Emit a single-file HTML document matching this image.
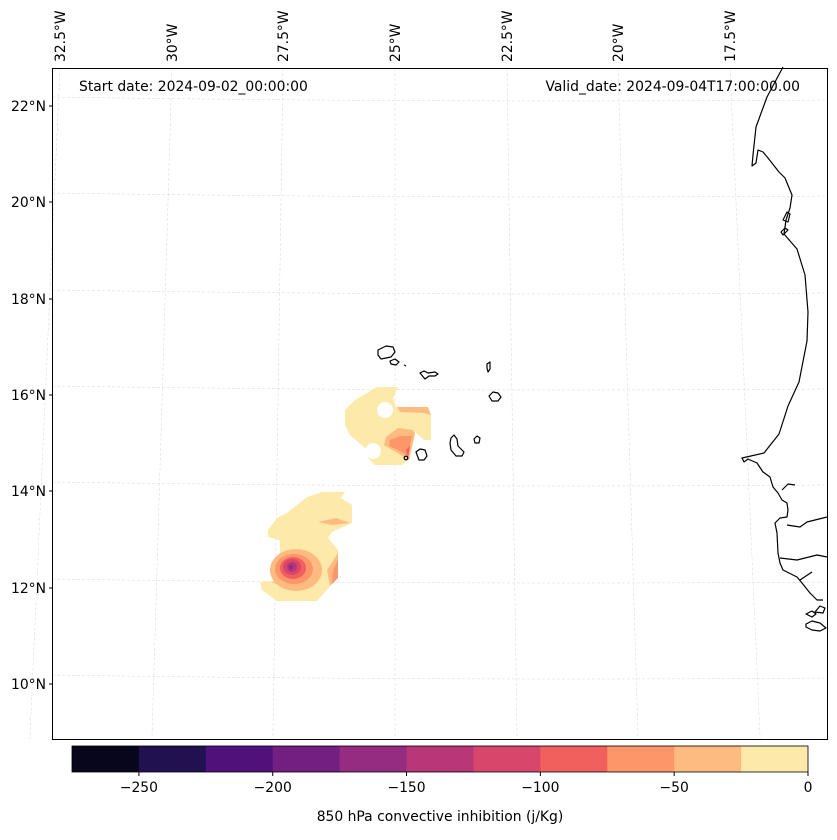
<!DOCTYPE html>
<html><head><meta charset="utf-8"><style>
body{margin:0;background:#fff;font-family:"DejaVu Sans","Liberation Sans",sans-serif;}
svg text{font-family:"DejaVu Sans","Liberation Sans",sans-serif;font-size:13.9px;fill:#000}
</style></head><body>
<svg width="837" height="836" viewBox="0 0 837 836">
<g id="grid"></g>
<g id="fills">
 <polygon fill="#fde9a9" points="377,387 398,387 393,398 396,407 428,407 431,415 431,440 424,440 415,432 408,460 402,465 375,465 368,458 365,448 350,435 345,425 345,410 355,400"/>
 <circle cx="385" cy="410" r="8" fill="#fff"/>
 <circle cx="373" cy="451" r="8" fill="#fff"/>
 <polygon fill="#febb81" points="397,407 428,407 431,415 424,413 400,412"/>
 <polygon fill="#febb81" points="386,437 398,428 413,430 415,434 409,460 396,452 384,445"/>
 <polygon fill="#fd9668" points="390,440 400,436 412,436 408,456 398,450 389,446"/>
 <polygon fill="#f1605d" points="406,450 410,446 408,458"/>
 <polygon fill="#fde9a9" points="322,492 345,492 341,498 352,505 352,523 332,532 328,538 338,550 338,577 317,601 277,601 262,590 260,582 280,580 280,540 268,537 268,530 277,518 287,513 307,497"/>
 <polygon fill="#febb81" points="318,522 336,518 350,523 332,525"/>
 <polygon fill="#febb81" points="338,553 338,577 330,586 327,570"/>
 <polygon fill="#fd9668" points="338,560 338,578 332,584 333,570"/>
 <ellipse fill="#febb81" cx="296" cy="570" rx="26" ry="21"/>
 <polygon fill="#febb81" points="272,582 290,578 300,582 285,588"/>
 <ellipse fill="#fd9668" cx="294" cy="569" rx="19" ry="15"/>
 <ellipse fill="#f1605d" cx="293" cy="568" rx="13" ry="11"/>
 <ellipse fill="#d9466b" cx="292" cy="567" rx="9" ry="8"/>
 <ellipse fill="#b73779" cx="292" cy="567" rx="5" ry="5"/>
 <ellipse fill="#952c80" cx="291" cy="567" rx="2.5" ry="2.5"/>
</g>
<g fill="none" stroke="#000" stroke-width="1.2" stroke-linejoin="round">
 <polyline points="783,67 767,97 756,127 753,155 752,166 756,163 758,150 763,152 768,158 779,172 785,178 792,195 790,208 786,220 784,234 797,249 805,275 808,312 807,341 799,382 788,406 779,434 764,453 742,458 744,462 748,459 757,463 763,472 770,477 773,487 778,493 782,500 787,503 788,510 787,517 780,518 775,523 777,533 778,553 780,563 783,570 797,577 802,583 810,593 817,600 823,600"/>
 <polyline points="787,525 800,527 807,522 827,517"/>
 <polyline points="780,558 797,560 817,555 827,557"/>
 <polyline points="800,580 812,572"/>
 <polyline points="782,490 788,484 795,485"/>
 <path d="M783,220 l4,-8 3,2 -2,8 z M781,232 l4,-4 3,2 -5,5 z"/>
 <path d="M806,614 l6,-3 4,3 -4,3 z M806,624 l6,-3 8,2 6,5 -6,3 -8,-1 -6,-3 z M815,612 l5,-6 5,2 -2,5 z"/>
 <path d="M378,350 l8,-4 7,1 2,5 -4,5 -10,2 -3,-4 z M390,361 l5,-2 4,3 -3,3 -5,-1 z M404,365 l2,1 M420,373 l4,-2 4,2 7,-1 3,2 -3,2 -6,0 -4,3 z M487,364 l3,-2 0,7 -2,3 -1,-4 z M489,396 l4,-4 5,1 3,4 -3,4 -6,0 z M474,439 l3,-3 3,2 -1,5 -4,0 z M451,438 l3,-3 3,4 1,7 6,6 -2,4 -6,0 -5,-6 -1,-7 z M416,452 l4,-3 5,1 2,6 -3,4 -5,0 z"/>
 <circle cx="406" cy="458" r="1.8"/>
</g>
<rect x="52.5" y="68.5" width="775" height="671" fill="none" stroke="#000" stroke-width="1"/>
<text x="79" y="91">Start date: 2024-09-02_00:00:00</text>
<text x="800" y="91" text-anchor="end">Valid_date: 2024-09-04T17:00:00.00</text>
<g id="labels"></g>
<g id="cbar"></g>
<text x="440" y="821" text-anchor="middle">850 hPa convective inhibition (j/Kg)</text>
</svg>
<script>
const latTicks=[22,20,18,16,14,12,10];
const latY=[106,202,299,395,491,588,684];
const lonTicks=["32.5°W","30°W","27.5°W","25°W","22.5°W","20°W","17.5°W"];
const lonTop=[60,172,283,395,507,618,730];
const cbLevels=[-275,-250,-225,-200,-175,-150,-125,-100,-75,-50,-25,0];
const cbColors=["#07061c","#221150","#4f127b","#721f81","#952c80","#b73779","#d9466b","#f1605d","#fd9668","#febb81","#fde9a9"];
const cbTicks=[-250,-200,-150,-100,-50,0];
const NS="http://www.w3.org/2000/svg";
function mk(t,a,p){const e=document.createElementNS(NS,t);for(const k in a)e.setAttribute(k,a[k]);p.appendChild(e);return e;}
const grid=document.getElementById('grid'),labels=document.getElementById('labels'),cbar=document.getElementById('cbar');
latTicks.forEach((v,i)=>{const y=latY[i];
 const l=mk('path',{d:`M52,${y-9} Q440,${y-3} 827,${y-6}`,fill:'none',stroke:'#d6d6d6','stroke-width':0.5,'stroke-dasharray':'3,2'},grid);
 
 
 const t=mk('text',{x:46,y:y+5,'text-anchor':'end'},labels);t.textContent=v+'°N';
 
 
 const tk=mk('line',{x1:49,x2:52,y1:y,y2:y,stroke:'#000'},labels);
 
 
});
lonTicks.forEach((v,i)=>{const x=lonTop[i];const xb=395+(x-395)*1.09;
 const l=mk('line',{x1:x,y1:68,x2:xb,y2:739,stroke:'#d6d6d6','stroke-width':0.5,'stroke-dasharray':'3,2'},grid);
 
 
 const t=mk('text',{transform:`translate(${x+5},62) rotate(-90)`},labels);t.textContent=v;
 
 
});
const cx0=72,cx1=808,cy=746,ch=26;
const sx=v=>cx0+(v-cbLevels[0])/(cbLevels[cbLevels.length-1]-cbLevels[0])*(cx1-cx0);
cbColors.forEach((c,i)=>{const r=mk('rect',{x:sx(cbLevels[i]),y:cy,width:sx(cbLevels[i+1])-sx(cbLevels[i])+0.5,height:ch,fill:c},cbar);
 
 });
const fr=mk('rect',{x:cx0,y:cy,width:cx1-cx0,height:ch,fill:'none',stroke:'#000','stroke-width':0.8},cbar);


cbTicks.forEach(v=>{const x=sx(v);
 const tk=mk('line',{x1:x,x2:x,y1:cy+ch,y2:cy+ch+4,stroke:'#000'},cbar);
 
 
 const t=mk('text',{x:x,y:cy+ch+20,'text-anchor':'middle'},cbar);t.textContent=v<0?'\u2212'+(-v):''+v;
 
 
});
</script>
</body></html>
